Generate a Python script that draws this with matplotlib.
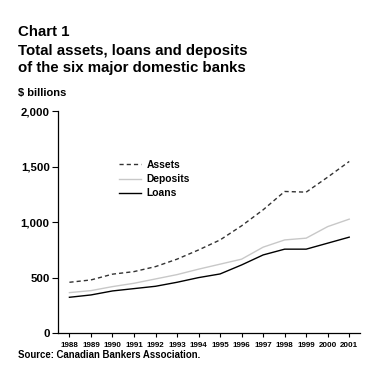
import numpy as np
import matplotlib.pyplot as plt

plt.rcParams['font.family'] = ['Liberation Sans', 'DejaVu Sans']
plt.rcParams['font.weight'] = 'bold'

# Données ($ milliards)
years = list(range(1988, 2002))
assets = [459, 480, 532, 555, 600, 667, 750, 840, 967, 1111, 1276, 1270, 1405, 1546]
deposits = [366, 384, 420, 450, 489, 528, 577, 622, 667, 775, 840, 856, 960, 1027]
loans = [324, 345, 381, 402, 423, 459, 501, 534, 615, 705, 757, 757, 811, 865]
yticks = [0, 500, 1000, 1500, 2000]
ytick_labels = ['0', '500', '1,000', '1,500', '2,000']

fig = plt.figure(figsize=(3.86, 3.79), dpi=100)
ax = fig.add_axes([0.1503, 0.1206, 0.7823, 0.5865])

ax.plot(years, assets, color='#333333', lw=1.0, ls=(0, (3, 2.2)), label='Assets')
ax.plot(years, deposits, color='#c8c8c8', lw=1.0, label='Deposits')
ax.plot(years, loans, color='black', lw=1.0, label='Loans')

ax.set_xlim(1987.47, 2001.5)
ax.set_ylim(0, 2000)
ax.set_xticks(years)
ax.set_xticklabels([str(y) for y in years], fontsize=5.8, fontweight='bold')
ax.set_yticks(yticks)
ax.set_yticklabels(ytick_labels, fontsize=8.2, fontweight='bold')
ax.tick_params(axis='y', length=4, width=0.8, pad=2)
ax.tick_params(axis='x', length=3, width=0.8, pad=3)
for s in ['top', 'right']:
    ax.spines[s].set_visible(False)
for s in ['left', 'bottom']:
    ax.spines[s].set_linewidth(0.9)

leg = ax.legend(loc='upper left', bbox_to_anchor=(119 / 386, 1 - 160 / 379),
                bbox_transform=fig.transFigure, frameon=False, fontsize=7.4,
                handlelength=2.1, handletextpad=0.6, labelspacing=0.4,
                borderpad=0, borderaxespad=0)
for t in leg.get_texts():
    t.set_fontweight('bold')

# Titres
fig.text(18 / 386, 1 - 32 / 379, 'Chart 1', fontsize=10.8, fontweight='bold', va='center')
fig.text(18 / 386, 1 - 51 / 379, 'Total assets, loans and deposits', fontsize=10.8,
         fontweight='bold', va='center')
fig.text(18 / 386, 1 - 68 / 379, 'of the six major domestic banks', fontsize=10.8,
         fontweight='bold', va='center')
fig.text(18 / 386, 1 - 93 / 379, '$ billions', fontsize=8, fontweight='bold', va='center')
fig.text(18 / 386, 1 - 355 / 379, 'Source: Canadian Bankers Association.', fontsize=6.9,
         fontweight='bold', va='center')

fig.savefig('out.png', dpi=100)
